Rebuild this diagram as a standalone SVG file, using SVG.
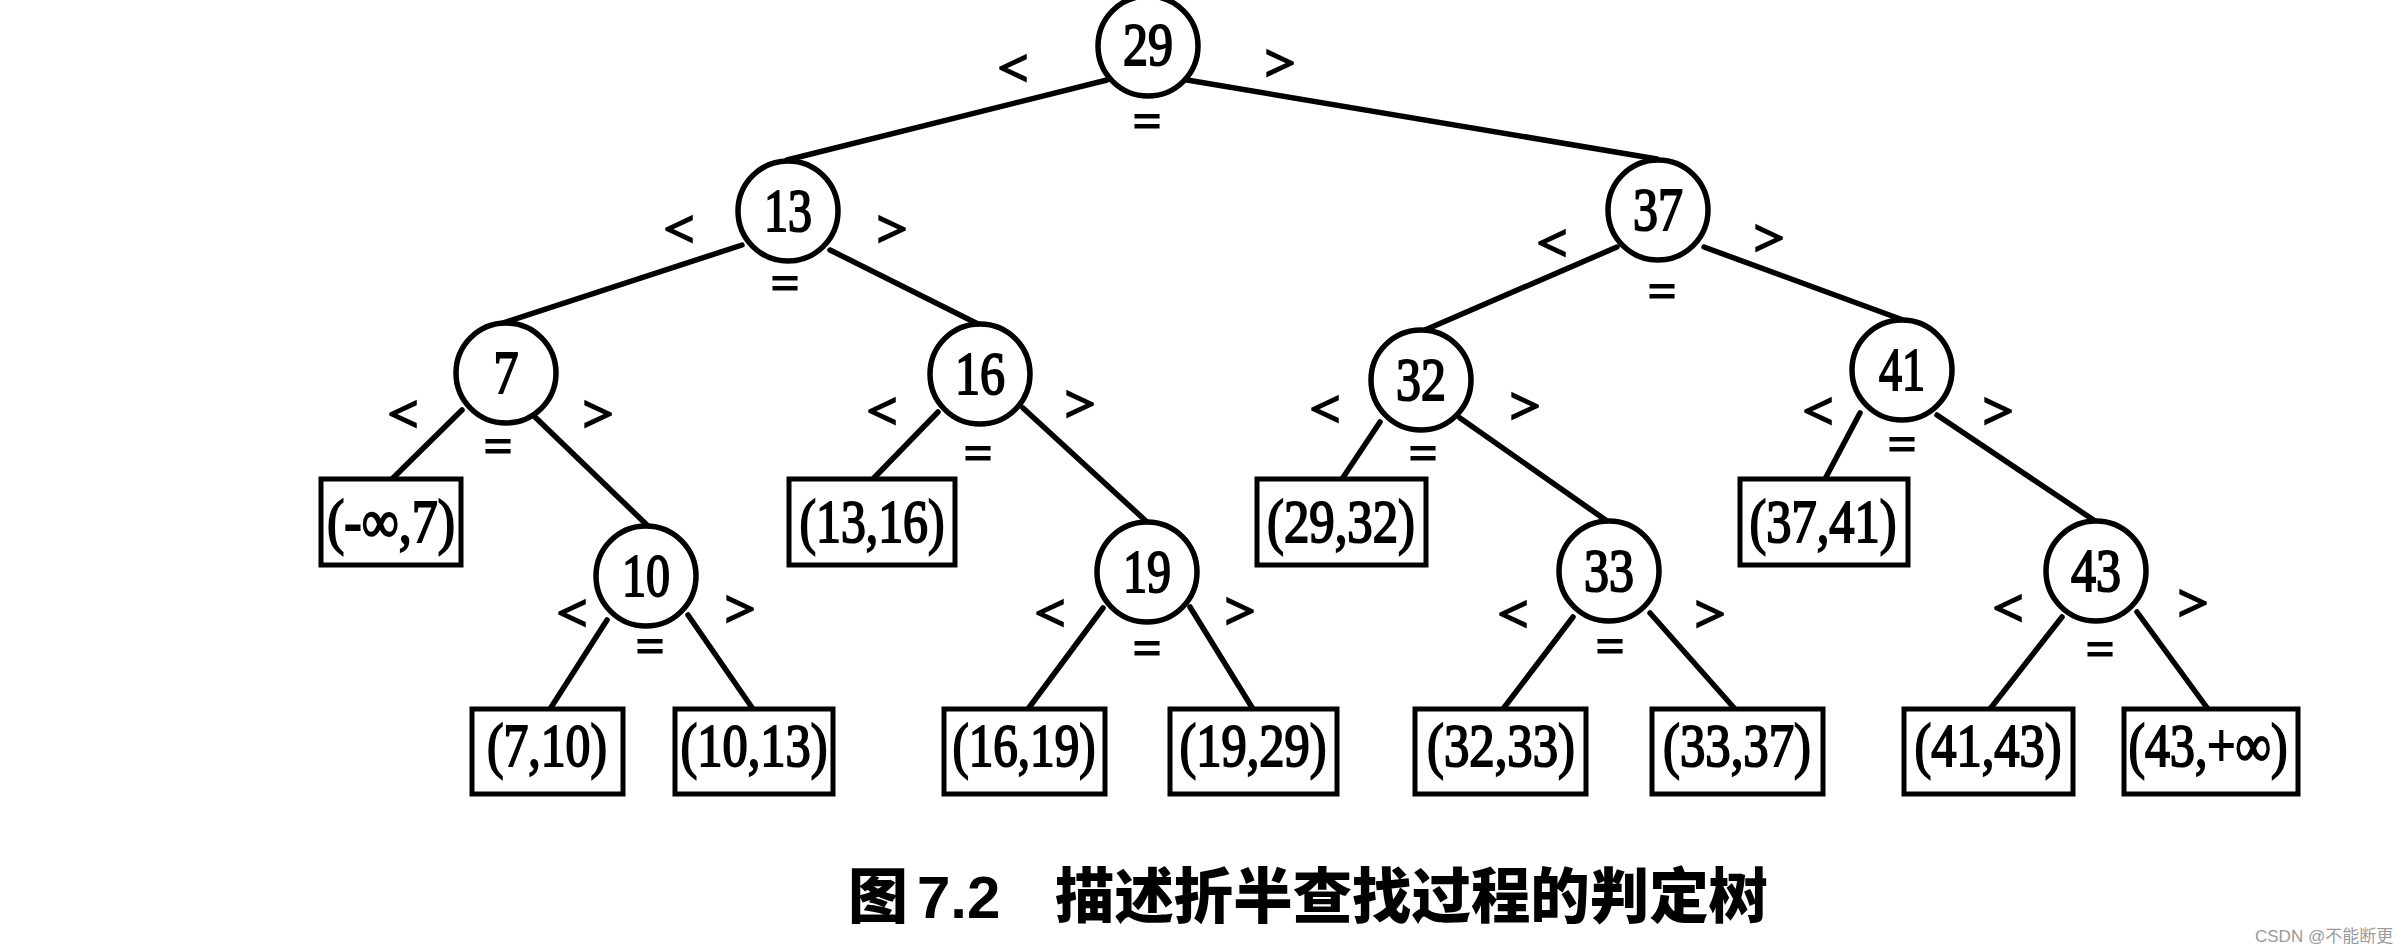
<svg xmlns="http://www.w3.org/2000/svg" width="2405" height="950" viewBox="0 0 2405 950">
<style>
.bg{fill:#ffffff}
.edge{stroke:#000;stroke-width:5.5;stroke-linecap:round;fill:none}
.node circle{fill:#fff;stroke:#000;stroke-width:5.5}
.leaf rect{fill:#fff;stroke:#000;stroke-width:5}
.num{font-family:"Liberation Serif","Times New Roman",serif;font-size:61px;text-anchor:middle;fill:#000;stroke:#000;stroke-width:2}
.lbl{font-family:"Liberation Serif","Times New Roman",serif;font-size:50px;text-anchor:middle;fill:#000;stroke:#000;stroke-width:2.6}
.eq{font-family:"Liberation Serif","Times New Roman",serif;font-size:50px;text-anchor:middle;fill:#000;stroke:#000;stroke-width:2}
.cap{font-family:"Noto Sans CJK SC",sans-serif;font-weight:900;font-size:60px;fill:#000}
.capn{font-family:"Liberation Sans",Arial,sans-serif;font-weight:bold;font-size:60px;fill:#000}
.wm{font-family:"Liberation Sans","Noto Sans CJK SC",sans-serif;font-size:17px;fill:#9a9a9a}
</style>
<rect class="bg" x="0" y="0" width="2405" height="950"/>
<g id="connectors">
<line class="edge" x1="1107" y1="80" x2="787" y2="160"/>
<line class="edge" x1="1187" y1="80" x2="1657" y2="159"/>
<line class="edge" x1="742" y1="245" x2="500" y2="324"/>
<line class="edge" x1="830" y1="250" x2="978" y2="324"/>
<line class="edge" x1="462" y1="410" x2="392" y2="479"/>
<line class="edge" x1="535" y1="417" x2="648" y2="526"/>
<line class="edge" x1="607" y1="620" x2="550" y2="709"/>
<line class="edge" x1="688" y1="615" x2="753" y2="709"/>
<line class="edge" x1="938" y1="412" x2="873" y2="479"/>
<line class="edge" x1="1023" y1="408" x2="1147" y2="522"/>
<line class="edge" x1="1103" y1="608" x2="1028" y2="709"/>
<line class="edge" x1="1190" y1="607" x2="1253" y2="709"/>
<line class="edge" x1="1617" y1="247" x2="1425" y2="330"/>
<line class="edge" x1="1704" y1="247" x2="1903" y2="320"/>
<line class="edge" x1="1380" y1="422" x2="1342" y2="479"/>
<line class="edge" x1="1460" y1="418" x2="1607" y2="521"/>
<line class="edge" x1="1573" y1="617" x2="1503" y2="709"/>
<line class="edge" x1="1650" y1="613" x2="1735" y2="709"/>
<line class="edge" x1="1860" y1="413" x2="1825" y2="479"/>
<line class="edge" x1="1937" y1="415" x2="2095" y2="521"/>
<line class="edge" x1="2062" y1="617" x2="1990" y2="709"/>
<line class="edge" x1="2137" y1="612" x2="2208" y2="709"/>
</g>
<g id="n29" class="node"><circle cx="1148" cy="46" r="50"/><text class="num" x="1148" y="65" textLength="50" lengthAdjust="spacingAndGlyphs">29</text>
<text class="lbl" x="1013" y="85" textLength="30" lengthAdjust="spacingAndGlyphs">&lt;</text><text class="lbl" x="1280" y="80" textLength="30" lengthAdjust="spacingAndGlyphs">&gt;</text><text class="eq" x="1147" y="138" textLength="28" lengthAdjust="spacingAndGlyphs">=</text></g>
<g id="n13" class="node"><circle cx="788" cy="211" r="50"/><text class="num" x="788" y="231" textLength="48" lengthAdjust="spacingAndGlyphs">13</text>
<text class="lbl" x="679" y="246" textLength="30" lengthAdjust="spacingAndGlyphs">&lt;</text><text class="lbl" x="892" y="246" textLength="30" lengthAdjust="spacingAndGlyphs">&gt;</text><text class="eq" x="785" y="300" textLength="28" lengthAdjust="spacingAndGlyphs">=</text></g>
<g id="n37" class="node"><circle cx="1658" cy="210" r="50"/><text class="num" x="1658" y="230" textLength="50" lengthAdjust="spacingAndGlyphs">37</text>
<text class="lbl" x="1552" y="260" textLength="30" lengthAdjust="spacingAndGlyphs">&lt;</text><text class="lbl" x="1769" y="255" textLength="30" lengthAdjust="spacingAndGlyphs">&gt;</text><text class="eq" x="1662" y="308" textLength="28" lengthAdjust="spacingAndGlyphs">=</text></g>
<g id="n7" class="node"><circle cx="506" cy="373" r="50"/><text class="num" x="506" y="393" textLength="25" lengthAdjust="spacingAndGlyphs">7</text>
<text class="lbl" x="403" y="431" textLength="30" lengthAdjust="spacingAndGlyphs">&lt;</text><text class="lbl" x="598" y="431" textLength="30" lengthAdjust="spacingAndGlyphs">&gt;</text><text class="eq" x="498" y="463" textLength="28" lengthAdjust="spacingAndGlyphs">=</text></g>
<g id="n16" class="node"><circle cx="980" cy="374" r="50"/><text class="num" x="980" y="394" textLength="50" lengthAdjust="spacingAndGlyphs">16</text>
<text class="lbl" x="882" y="428" textLength="30" lengthAdjust="spacingAndGlyphs">&lt;</text><text class="lbl" x="1080" y="421" textLength="30" lengthAdjust="spacingAndGlyphs">&gt;</text><text class="eq" x="978" y="470" textLength="28" lengthAdjust="spacingAndGlyphs">=</text></g>
<g id="n32" class="node"><circle cx="1421" cy="380" r="50"/><text class="num" x="1421" y="400" textLength="50" lengthAdjust="spacingAndGlyphs">32</text>
<text class="lbl" x="1325" y="426" textLength="30" lengthAdjust="spacingAndGlyphs">&lt;</text><text class="lbl" x="1525" y="423" textLength="30" lengthAdjust="spacingAndGlyphs">&gt;</text><text class="eq" x="1423" y="470" textLength="28" lengthAdjust="spacingAndGlyphs">=</text></g>
<g id="n41" class="node"><circle cx="1902" cy="370" r="50"/><text class="num" x="1902" y="390" textLength="46" lengthAdjust="spacingAndGlyphs">41</text>
<text class="lbl" x="1818" y="428" textLength="30" lengthAdjust="spacingAndGlyphs">&lt;</text><text class="lbl" x="1998" y="428" textLength="30" lengthAdjust="spacingAndGlyphs">&gt;</text><text class="eq" x="1902" y="461" textLength="28" lengthAdjust="spacingAndGlyphs">=</text></g>
<g id="n10" class="node"><circle cx="646" cy="576" r="50"/><text class="num" x="646" y="596" textLength="48" lengthAdjust="spacingAndGlyphs">10</text>
<text class="lbl" x="572" y="630" textLength="30" lengthAdjust="spacingAndGlyphs">&lt;</text><text class="lbl" x="740" y="626" textLength="30" lengthAdjust="spacingAndGlyphs">&gt;</text><text class="eq" x="650" y="663" textLength="28" lengthAdjust="spacingAndGlyphs">=</text></g>
<g id="n19" class="node"><circle cx="1147" cy="572" r="50"/><text class="num" x="1147" y="592" textLength="48" lengthAdjust="spacingAndGlyphs">19</text>
<text class="lbl" x="1050" y="630" textLength="30" lengthAdjust="spacingAndGlyphs">&lt;</text><text class="lbl" x="1240" y="628" textLength="30" lengthAdjust="spacingAndGlyphs">&gt;</text><text class="eq" x="1147" y="665" textLength="28" lengthAdjust="spacingAndGlyphs">=</text></g>
<g id="n33" class="node"><circle cx="1609" cy="571" r="50"/><text class="num" x="1609" y="591" textLength="50" lengthAdjust="spacingAndGlyphs">33</text>
<text class="lbl" x="1513" y="631" textLength="30" lengthAdjust="spacingAndGlyphs">&lt;</text><text class="lbl" x="1710" y="631" textLength="30" lengthAdjust="spacingAndGlyphs">&gt;</text><text class="eq" x="1610" y="663" textLength="28" lengthAdjust="spacingAndGlyphs">=</text></g>
<g id="n43" class="node"><circle cx="2096" cy="571" r="50"/><text class="num" x="2096" y="591" textLength="50" lengthAdjust="spacingAndGlyphs">43</text>
<text class="lbl" x="2008" y="625" textLength="30" lengthAdjust="spacingAndGlyphs">&lt;</text><text class="lbl" x="2193" y="620" textLength="30" lengthAdjust="spacingAndGlyphs">&gt;</text><text class="eq" x="2100" y="666" textLength="28" lengthAdjust="spacingAndGlyphs">=</text></g>
<g id="l_ninf_7" class="leaf"><rect x="321" y="479" width="140" height="86"/><text class="num" x="391" y="542" textLength="128" lengthAdjust="spacingAndGlyphs">(-∞,7)</text></g>
<g id="l_13_16" class="leaf"><rect x="789" y="479" width="166" height="86"/><text class="num" x="872" y="542" textLength="145" lengthAdjust="spacingAndGlyphs">(13,16)</text></g>
<g id="l_29_32" class="leaf"><rect x="1257" y="479" width="169" height="86"/><text class="num" x="1341" y="542" textLength="148" lengthAdjust="spacingAndGlyphs">(29,32)</text></g>
<g id="l_37_41" class="leaf"><rect x="1740" y="479" width="168" height="86"/><text class="num" x="1823" y="542" textLength="147" lengthAdjust="spacingAndGlyphs">(37,41)</text></g>
<g id="l_7_10" class="leaf"><rect x="472" y="709" width="151" height="85"/><text class="num" x="547" y="766" textLength="120" lengthAdjust="spacingAndGlyphs">(7,10)</text></g>
<g id="l_10_13" class="leaf"><rect x="675" y="709" width="158" height="85"/><text class="num" x="754" y="766" textLength="147" lengthAdjust="spacingAndGlyphs">(10,13)</text></g>
<g id="l_16_19" class="leaf"><rect x="944" y="709" width="161" height="85"/><text class="num" x="1024" y="766" textLength="143" lengthAdjust="spacingAndGlyphs">(16,19)</text></g>
<g id="l_19_29" class="leaf"><rect x="1170" y="709" width="167" height="85"/><text class="num" x="1253" y="766" textLength="147" lengthAdjust="spacingAndGlyphs">(19,29)</text></g>
<g id="l_32_33" class="leaf"><rect x="1415" y="709" width="171" height="85"/><text class="num" x="1501" y="766" textLength="148" lengthAdjust="spacingAndGlyphs">(32,33)</text></g>
<g id="l_33_37" class="leaf"><rect x="1652" y="709" width="171" height="85"/><text class="num" x="1737" y="766" textLength="148" lengthAdjust="spacingAndGlyphs">(33,37)</text></g>
<g id="l_41_43" class="leaf"><rect x="1904" y="709" width="169" height="85"/><text class="num" x="1988" y="766" textLength="147" lengthAdjust="spacingAndGlyphs">(41,43)</text></g>
<g id="l_43_pinf" class="leaf"><rect x="2124" y="709" width="174" height="85"/><text class="num" x="2208" y="766" textLength="159" lengthAdjust="spacingAndGlyphs">(43,+∞)</text></g>
<g id="caption"><text y="918"><tspan class="cap" x="848">图</tspan><tspan class="capn" x="917">7.2</tspan><tspan class="cap" x="1055" textLength="713" lengthAdjust="spacingAndGlyphs">描述折半查找过程的判定树</tspan></text></g>
<text class="wm" x="2255" y="942">CSDN @不能断更</text>
</svg>
